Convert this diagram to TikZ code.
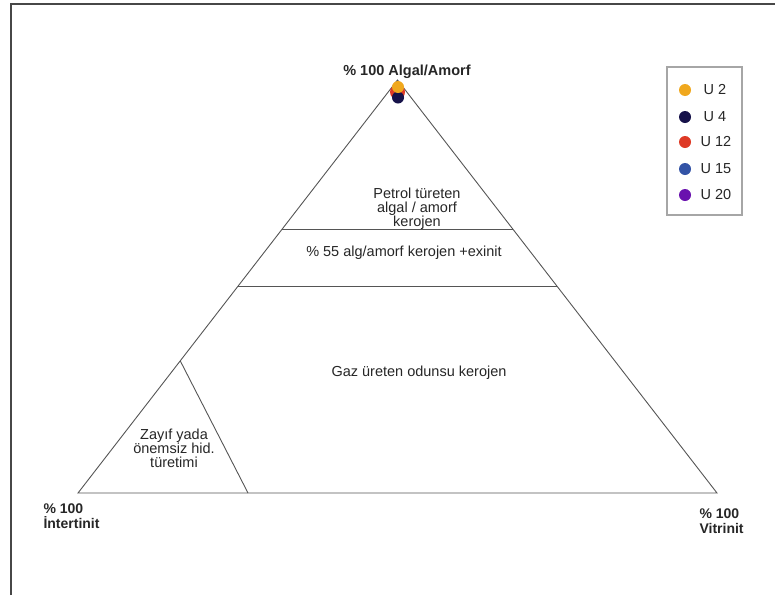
\documentclass[tikz,border=0pt]{standalone}
\usepackage{fontspec}
\setmainfont{Liberation Sans}
\usetikzlibrary{calc}
\definecolor{uorange}{HTML}{F0A81E}
\definecolor{unavy}{HTML}{16124A}
\definecolor{ured}{HTML}{DE3A26}
\definecolor{ublue}{HTML}{3353A6}
\definecolor{upurple}{HTML}{6A12AE}
\definecolor{linegray}{HTML}{555555}
\newcommand{\Yuz}{\textbf{\% 100}}

\begin{document}
\begin{tikzpicture}[x=1pt,y=-1pt,
  every node/.style={font=\fontsize{14.5}{14}\selectfont, text=black!85},
  zone/.style={align=center},
  corner/.style={align=left, font=\fontsize{14}{15.5}\selectfont\bfseries}]
\useasboundingbox (0,0) rectangle (775,595);
\coordinate (T) at (397.5,80);
\coordinate (L) at (78,493);
\coordinate (R) at (717,493);
\coordinate (S) at ($(L)!0.32!(T)$);
\coordinate (K) at (248,493);
\coordinate (A1) at (intersection cs: first line={(L)--(T)}, second line={(0,229)--(775,229)});
\coordinate (A2) at (intersection cs: first line={(R)--(T)}, second line={(0,229)--(775,229)});
\coordinate (B1) at (intersection cs: first line={(L)--(T)}, second line={(0,286)--(775,286)});
\coordinate (B2) at (intersection cs: first line={(R)--(T)}, second line={(0,286)--(775,286)});

% frame
\draw[line width=1.4pt, black!72] (11,595) -- (11,4) -- (775,4);

% triangle
\draw[linegray, line width=0.9pt] (L) -- (T) -- (R) -- cycle;
\draw[linegray, line width=0.9pt] (A1) -- (A2);
\draw[linegray, line width=0.9pt] (B1) -- (B2);
\draw[linegray, line width=0.9pt] (S) -- (K);

% samples at the top
\fill[ured] ($(T)+(0,12)$) circle (7.5);
\fill[unavy] ($(T)+(0.5,17.5)$) circle (6);
\fill[uorange] ($(T)+(0.5,7)$) circle (6);

\node (top) at (407,72) {\textbf{\% 100 Algal/Amorf}};
\node[zone] (petrol) at (417,209) {Petrol türeten\\algal / amorf\\kerojen};
\node[zone] (exinit) at (404,253) {\% 55 alg/amorf kerojen +exinit};
\node[zone] (gaz) at (419,373) {Gaz üreten odunsu kerojen};
\node[zone] (zayif) at (174,448) {Zayıf yada\\önemsiz hid.\\türetimi};
\node[corner, anchor=west] (inter) at (40,516) {\Yuz\\İntertinit};
\node[corner, anchor=west] (vitri) at (696,521) {\Yuz\\Vitrinit};

% legend
\draw[black!35, line width=1.2pt] (667,67) rectangle (742,215);
\fill[uorange] (685,90) circle (6);
\fill[unavy] (685,117) circle (6);
\fill[ured] (685,142) circle (6);
\fill[ublue] (685,169) circle (6);
\fill[upurple] (685,195) circle (6);
\node[anchor=west] (u2) at (700,90) {U 2};
\node[anchor=west] (u4) at (700,117) {U 4};
\node[anchor=west] (u12) at (697,142) {U 12};
\node[anchor=west] (u15) at (697,169) {U 15};
\node[anchor=west] (u20) at (697,195) {U 20};
\end{tikzpicture}
\end{document}
